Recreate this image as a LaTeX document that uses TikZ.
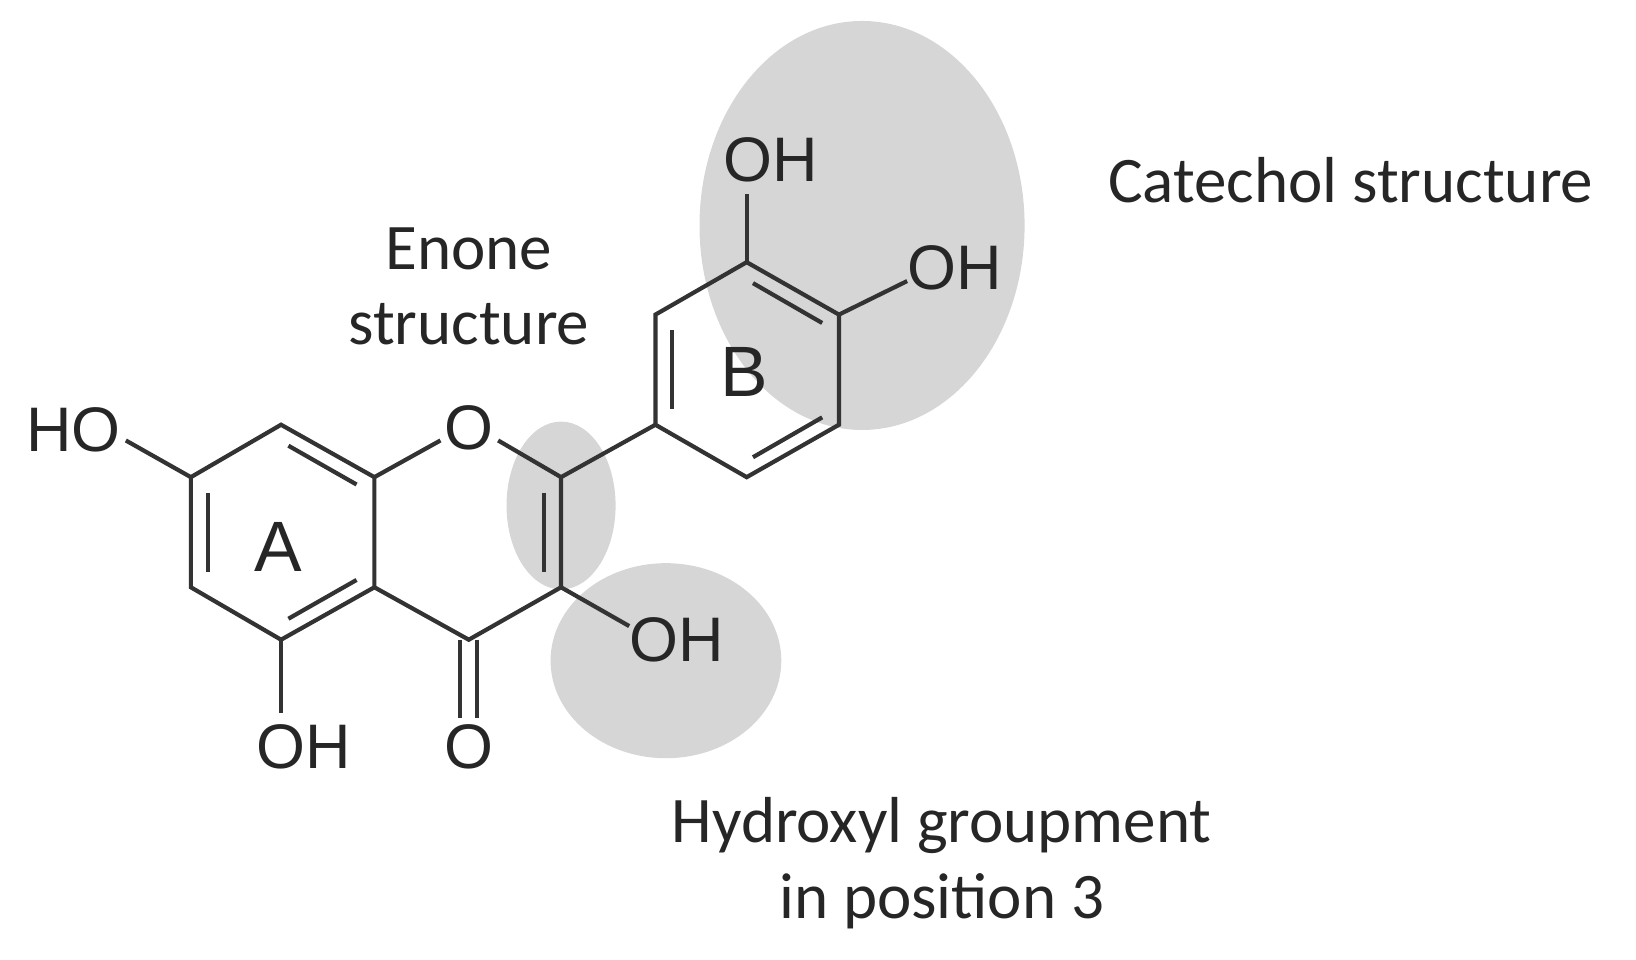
\documentclass[tikz,border=0pt]{standalone}
\usepackage{fontspec}
\usetikzlibrary{calc}
\setmainfont{Carlito}
\newfontfamily\atomfont{Liberation Sans}
\begin{document}
\begin{tikzpicture}[x=0.5pt,y=-0.5pt,
  bond/.style={line width=2pt,color=black!80},
  atom/.style={font=\atomfont\fontsize{30}{30}\selectfont,inner sep=0pt,text=black!85},
  lbl/.style={font=\fontsize{31}{36}\selectfont,align=center,inner sep=0pt,text=black!85},
  blob/.style={fill=black!16,draw=none}]
\useasboundingbox (0,0) rectangle (1560,915);
% highlights
\fill[blob] (822,215) ellipse [x radius=155,y radius=195];
\fill[blob] (535,482) ellipse [x radius=52,y radius=80];
\fill[blob] (635,630) ellipse [x radius=110,y radius=93];
% ring A
\coordinate (a1) at (268,405); \coordinate (a2) at (357,455);
\coordinate (a3) at (357,560); \coordinate (a4) at (268,610);
\coordinate (a5) at (182,560); \coordinate (a6) at (182,455);
% ring C
\coordinate (o1) at (447,405); \coordinate (c2) at (535,455);
\coordinate (c3) at (535,560); \coordinate (c4) at (447,610);
% ring B
\coordinate (b1) at (625,405); \coordinate (b2) at (625,300);
\coordinate (b3) at (712,250); \coordinate (b4) at (800,300);
\coordinate (b5) at (800,405); \coordinate (b6) at (712,455);
% atoms
\node[atom] (ho7) at (70,410) {HO};
\node[atom] (oring) at (447,408) {O};
\node[atom] (oh5) at (290,712) {OH};
\node[atom] (o4) at (447,712) {O};
\node[atom] (oh3) at (645,610) {OH};
\node[atom] (oh3p) at (735,152) {OH};
\node[atom] (oh4p) at (910,255) {OH};
\node[atom,font=\atomfont\fontsize{34}{34}\selectfont] (la) at (265,522) {A};
\node[atom,font=\atomfont\fontsize{34}{34}\selectfont] (lb) at (710,355) {B};
\coordinate (e7) at (120,420);
\coordinate (e5) at (268,680);
\coordinate (e3) at (600,597);
\coordinate (e3p) at (712,185);
\coordinate (e4p) at (865,268);
\coordinate (eo1) at (475,420); \coordinate (eo2) at (420,420);
% bonds
\draw[bond] (a6)--(a1)--(a2)--(a3)--(a4)--(a5)--cycle;
\draw[bond] (a2)--(eo2); \draw[bond] (eo1)--(c2)--(c3)--(c4)--(a3);
\draw[bond] (b1)--(b2)--(b3)--(b4)--(b5)--(b6)--cycle;
\draw[bond] (c2)--(b1);
\draw[bond] (a6)--(e7); \draw[bond] (a4)--(e5); \draw[bond] (c3)--(e3);
\draw[bond] (b3)--(e3p); \draw[bond] (b4)--(e4p);
% C=O
\draw[bond] ($(c4)+(-8,0)$)--(439,685);
\draw[bond] ($(c4)+(8,0)$)--(455,685);
% inner double-bond lines
\draw[bond] (198,470)--(198,545);
\draw[bond] (275,425)--(340,462);
\draw[bond] (340,553)--(275,590);
\draw[bond] (519,470)--(519,545);
\draw[bond] (641,315)--(641,390);
\draw[bond] (718,270)--(784,308);
\draw[bond] (784,398)--(718,436);
% labels
\node[lbl] (enone) at (447,273) {Enone\\structure};
\node[lbl] (cat) at (1288,172) {Catechol structure};
\node[lbl] (hyd) at (898,823) {Hydroxyl groupment\\in position 3};
\end{tikzpicture}
\end{document}
